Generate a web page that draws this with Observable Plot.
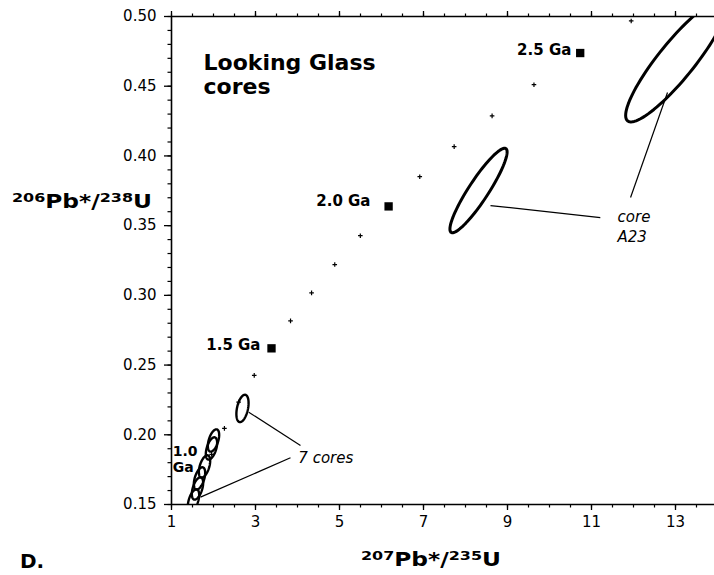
<!DOCTYPE html>
<html><head><meta charset="utf-8">
<script src="https://cdn.jsdelivr.net/npm/d3@7"></script>
<script src="https://cdn.jsdelivr.net/npm/@observablehq/plot@0.6"></script>
<style>
body{margin:0;background:#fff}
#chart{position:relative;width:714px;height:575px}
</style>
</head><body><div id="chart"></div>
<script>
// Concordia tick marks (every 0.1 Ga)
const concordiaAges = [1.1,1.2,1.3,1.4,1.6,1.7,1.8,1.9,2.1,2.2,2.3,2.4,2.6];
const concordiaX = [1.955,2.260,2.598,2.970,3.834,4.335,4.887,5.496,6.911,7.730,8.633,9.630,11.945];
const concordiaY = [0.1860,0.2046,0.2234,0.2426,0.2817,0.3018,0.3221,0.3428,0.3851,0.4067,0.4287,0.4511,0.4968];
// Labelled age markers
const ageLabels = ["1.5 Ga","2.0 Ga","2.5 Ga"];
const ageX = [3.381,6.169,10.731];
const ageY = [0.2620,0.3638,0.4738];
// Error ellipses: centre, sigma x, sigma y, correlation
const ellNames = ["A23 outer","A23","core 7","core 1","core 2","core 3","core 4","core 5","core 6"];
const ellCx = [13.02,8.31,2.69,2.00,1.952,1.786,1.667,1.619,1.524];
const ellCy = [0.4684,0.3752,0.2189,0.1959,0.1902,0.1773,0.1687,0.1615,0.1529];
const ellSx = [1.207,0.681,0.145,0.135,0.135,0.135,0.135,0.135,0.135];
const ellSy = [0.0440,0.0303,0.0098,0.0080,0.0080,0.0080,0.0080,0.0080,0.0080];
const ellRho = [0.894,0.912,0.40,0.5,0.5,0.5,0.5,0.5,0.5];
// Ticks
const xMajorTicks = [1,3,5,7,9,11,13];
const yMajorTicks = [0.15,0.20,0.25,0.30,0.35,0.40,0.45,0.50];
const xMinorTicks = d3.range(1, 14.01, 0.5);
const yMinorTicks = d3.range(15, 51, 1).map(v => v / 100);

const concordia = concordiaAges.map((a, i) => ({age: a, x: concordiaX[i], y: concordiaY[i]}));
const markers = ageLabels.map((l, i) => ({label: l, x: ageX[i], y: ageY[i]}));
const ellPts = [];
ellNames.forEach((n, i) => {
  const r = ellRho[i], q = Math.sqrt(1 - r * r);
  for (let k = 0; k <= 96; k++) {
    const t = 2 * Math.PI * k / 96;
    ellPts.push({id: n, big: i < 2,
      x: ellCx[i] + ellSx[i] * Math.cos(t),
      y: ellCy[i] + ellSy[i] * (r * Math.cos(t) + q * Math.sin(t))});
  }
});
const leaders = [
  {x1: 8.595, y1: 0.3644, x2: 11.21, y2: 0.3558},
  {x1: 11.93, y1: 0.3702, x2: 12.81, y2: 0.4455},
  {x1: 2.84, y1: 0.2162, x2: 4.071, y2: 0.1923},
  {x1: 1.69, y1: 0.1553, x2: 3.833, y2: 0.1835}
];
const gaText = [
  {t: "1.5 Ga", x: 3.119, y: 0.2640},
  {t: "2.0 Ga", x: 5.738, y: 0.3673},
  {t: "2.5 Ga", x: 10.52, y: 0.4756}
];
const noteText = [
  {t: "core", x: 11.62, y: 0.3558},
  {t: "A23", x: 11.62, y: 0.3415},
  {t: "7 cores", x: 4.02, y: 0.1830}
];

const fmt = d3.format(".2f");
const plot = Plot.plot({
  width: 714, height: 575,
  marginLeft: 171, marginRight: 0, marginTop: 16, marginBottom: 71,
  style: {fontFamily: "DejaVu Sans", background: "#fff", color: "#000", fontSize: "15px"},
  x: {domain: [1, 14], range: [171, 717]},
  y: {domain: [0.15, 0.50]},
  marks: [
    Plot.ruleX([1], {strokeWidth: 1.6}),
    Plot.ruleY([0.15, 0.50], {strokeWidth: 1.6}),
    Plot.axisX({anchor: "bottom", ticks: xMinorTicks, tickSize: 3.5, tickFormat: () => "", label: null, strokeWidth: 1.2}),
    Plot.axisX({anchor: "bottom", ticks: xMajorTicks, tickSize: 6, tickPadding: 6, tickFormat: d => String(d), label: null, fontSize: 15, strokeWidth: 1.3}),
    Plot.axisX({anchor: "top", ticks: xMinorTicks, tickSize: 3.5, tickFormat: () => "", label: null, strokeWidth: 1.2}),
    Plot.axisX({anchor: "top", ticks: xMajorTicks, tickSize: 6, tickFormat: () => "", label: null, strokeWidth: 1.3}),
    Plot.axisY({anchor: "left", ticks: yMinorTicks, tickSize: 3.5, tickFormat: () => "", label: null, strokeWidth: 1.2}),
    Plot.axisY({anchor: "left", ticks: yMajorTicks, tickSize: 7, tickPadding: 8, tickFormat: fmt, label: null, fontSize: 15, strokeWidth: 1.3}),
    Plot.dot(concordia, {x: "x", y: "y", symbol: "plus", r: 1.6, stroke: "#000", strokeWidth: 1.2}),
    Plot.dot(markers, {x: "x", y: "y", symbol: "square", r: 4.7, fill: "#000"}),
    Plot.line(ellPts.filter(d => d.big), {x: "x", y: "y", z: "id", stroke: "#000", strokeWidth: 3, clip: true}),
    Plot.line(ellPts.filter(d => !d.big), {x: "x", y: "y", z: "id", stroke: "#000", strokeWidth: 2.4, clip: true}),
    Plot.link(leaders, {x1: "x1", y1: "y1", x2: "x2", y2: "y2", stroke: "#000", strokeWidth: 1.2}),
    Plot.text(gaText, {x: "x", y: "y", text: "t", textAnchor: "end", fontWeight: "bold", fontSize: 15}),
    Plot.text(["1.0\nGa"], {x: 1.03, y: 0.1826, text: d => d, textAnchor: "start", fontWeight: "bold", fontSize: 14, lineHeight: 1.1}),
    Plot.text(noteText, {x: "x", y: "y", text: "t", textAnchor: "start", fontStyle: "italic", fontSize: 15}),
    Plot.text(["Looking Glass\ncores"], {x: 1.762, y: 0.4742, text: d => d, textAnchor: "start", lineAnchor: "top", fontWeight: "bold", fontSize: 22, lineHeight: 1.1})
  ]
});
document.getElementById("chart").appendChild(plot);

const svg = d3.select(plot);
function ratioLabel(x, y, a, b, c) {
  const t = svg.append("text").attr("x", x).attr("y", y).attr("text-anchor", "start")
    .attr("font-family", "DejaVu Sans").attr("font-weight", "bold").attr("font-size", 19)
    .attr("fill", "#000").attr("textLength", 140).attr("lengthAdjust", "spacingAndGlyphs");
  t.append("tspan").attr("font-size", 13).attr("dy", -6).text(a);
  t.append("tspan").attr("dy", 6).text(b);
  t.append("tspan").attr("font-size", 13).attr("dy", -6).text(c);
  t.append("tspan").attr("dy", 6).text("U");
}
ratioLabel(12, 208, "206", "Pb*/", "238");
ratioLabel(361, 566, "207", "Pb*/", "235");
svg.append("text").attr("x", 20).attr("y", 568).attr("text-anchor", "start").attr("font-family", "DejaVu Sans")
  .attr("font-weight", "bold").attr("font-size", 20).attr("fill", "#000").text("D.");
</script>
</body></html>
